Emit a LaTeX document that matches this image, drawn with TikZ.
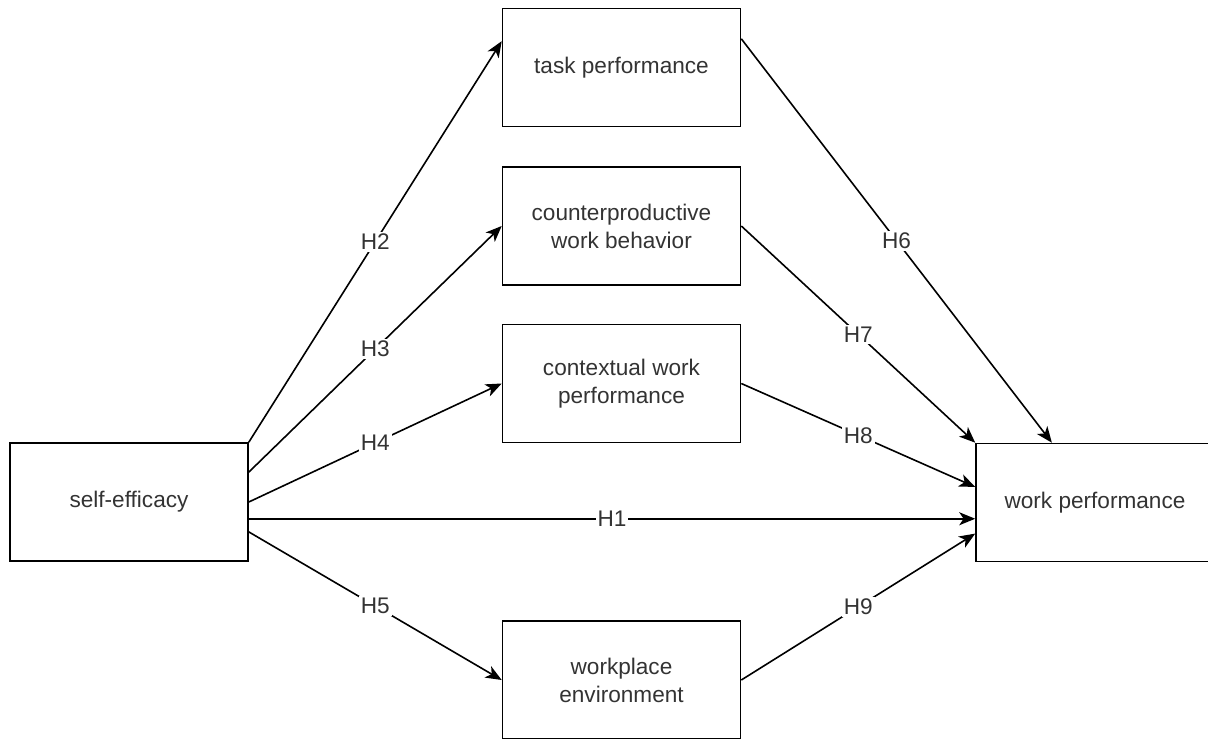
\documentclass[tikz,border=0pt]{standalone}
\usepackage{fontspec}
\setmainfont{Liberation Sans}
\usetikzlibrary{calc,arrows.meta}
\tikzset{
  box/.style={draw, line width=0.8pt, minimum width=119pt, minimum height=59pt, inner sep=0pt, align=center, text=black!80, font=\fontsize{11.3}{14}\selectfont},
  hyp/.style={fill=white, inner sep=1pt, text=black!80, font=\fontsize{11.3}{14}\selectfont},
  arr/.style={-{Stealth[length=8pt, width=6.5pt, inset=2.2pt]}, line width=0.8pt},
}

\begin{document}
\begin{tikzpicture}[x=0.5pt, y=-0.5pt]
  \useasboundingbox (0,0) rectangle (1208,738);
  % boxes
  \node[box] (self) at (129,502) {self-efficacy};
  \node[box] (task) at (621.5,67.5) {task performance};
  \node[box] (cwb) at (621.5,226) {counterproductive\\work behavior};
  \node[box] (ctx) at (621.5,383.5) {contextual work\\performance};
  \node[box] (env) at (621.5,680) {workplace\\environment};
  \node[box] (work) at (1095,502.5) {work performance};
  % paths from self-efficacy
  \draw[arr] (self.north east) -- node[hyp] {H2} ($(task.north west)!0.28!(task.south west)$);
  \draw[arr] ($(self.north east)!0.25!(self.south east)$) -- node[hyp] {H3} (cwb.west);
  \draw[arr] (self.east) -- node[hyp] {H4} (ctx.west);
  \draw[arr] ($(self.north east)!0.64!(self.south east)$) coordinate (h1) -- node[hyp] {H1} (h1 -| work.west);
  \draw[arr] ($(self.north east)!0.75!(self.south east)$) -- node[hyp] {H5} (env.west);
  % paths into work performance
  \draw[arr] ($(task.north east)!0.26!(task.south east)$) -- node[hyp] {H6} ($(work.north west)!0.32!(work.north east)$);
  \draw[arr] (cwb.east) -- node[hyp] {H7} (work.north west);
  \draw[arr] (ctx.east) -- node[hyp] {H8} ($(work.north west)!0.37!(work.south west)$);
  \draw[arr] (env.east) -- node[hyp] {H9} ($(work.north west)!0.76!(work.south west)$);
\end{tikzpicture}
\end{document}
